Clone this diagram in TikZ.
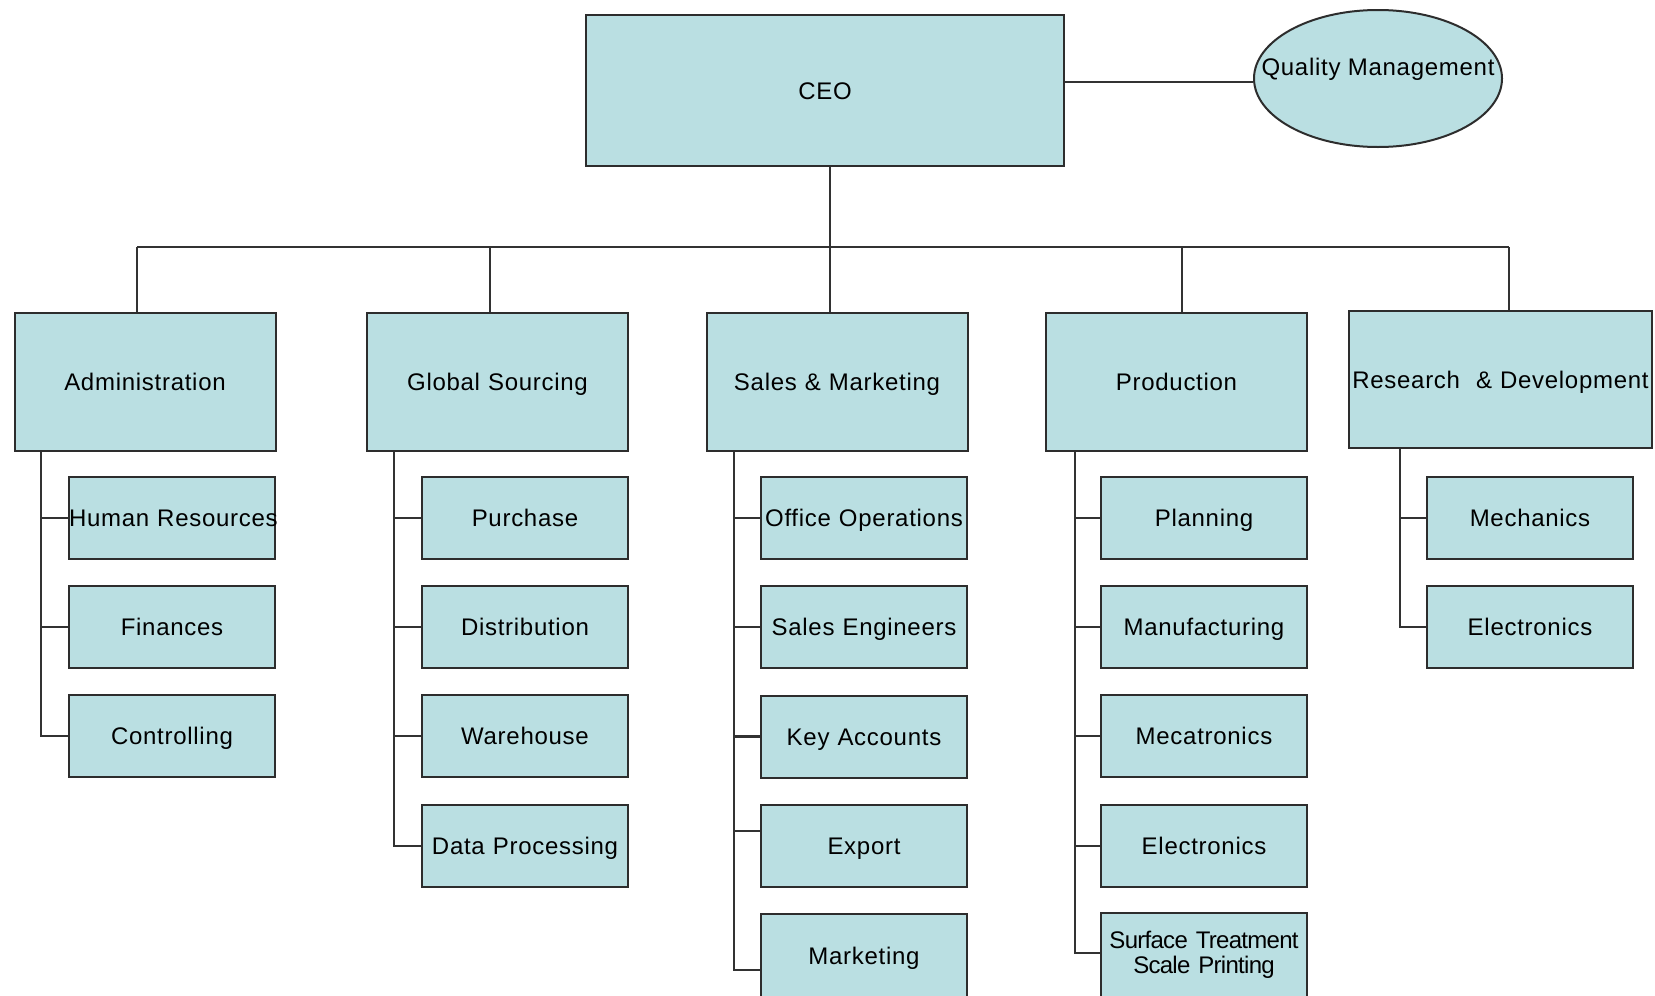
\documentclass[tikz,border=0pt]{standalone}
\usepackage{fontspec}
\setmainfont{Liberation Sans}[LetterSpace=3]
\usetikzlibrary{shapes.geometric}
\definecolor{boxfill}{RGB}{186,223,226}
\definecolor{boxline}{RGB}{45,45,45}
\definecolor{wire}{RGB}{50,50,50}
\begin{document}
\begin{tikzpicture}[x=1pt,y=-1pt,
  unit/.style={draw=boxline, fill=boxfill, line width=2pt, inner sep=0pt,
    font=\fontsize{24}{26}\selectfont, align=center},
  oneline/.style={text height=17pt, text depth=0pt},
  head/.style={unit, oneline, minimum width=478pt, text width=478pt, minimum height=151pt},
  dept/.style={unit, oneline, minimum width=261pt, text width=261pt, minimum height=138pt},
  teambox/.style={unit, minimum width=206pt, text width=206pt, minimum height=82pt},
  team/.style={teambox, oneline},
  lastteam/.style={team, minimum height=84pt},
  qual/.style={unit, ellipse, minimum width=248pt, minimum height=137pt},
  link/.style={draw=wire, line width=2.2pt}]
\useasboundingbox (0,0) rectangle (1655,996);

% top level
\node[head] (ceo) at (825,90.5) {CEO};
\node[qual, label={[name=qmtext, font=\fontsize{24}{26}\selectfont, text height=17pt, text depth=0pt, yshift=12pt]center:Quality Management}] (qm) at (1378,78.5) {};

% departments
\node[dept] (adm)  at (145,382)    {Administration};
\node[dept] (gs)   at (497.5,382)  {Global Sourcing};
\node[dept] (sm)   at (837,382)    {Sales \& Marketing};
\node[dept] (prod) at (1176.5,382) {Production};
\node[dept, minimum width=303pt, text width=303pt, minimum height=137pt] (rd) at (1500.5,379.5) {\mbox{Research~ \& Development}};

% administration teams
\node[team] (hr)   at (172,518) {\mbox{Human Resources}};
\node[team] (fin)  at (172,627) {Finances};
\node[team] (ctrl) at (172,736) {Controlling};

% global sourcing teams
\node[team] (pur)  at (525,518) {Purchase};
\node[team] (dist) at (525,627) {Distribution};
\node[team] (ware) at (525,736) {Warehouse};
\node[team] (data) at (525,846) {\mbox{Data Processing}};

% sales & marketing teams
\node[team] (off)  at (864,518) {\mbox{Office Operations}};
\node[team] (seng) at (864,627) {\mbox{Sales Engineers}};
\node[team] (key)  at (864,736.5) {Key Accounts};
\node[team] (exp)  at (864,846) {Export};
\node[lastteam] (mkt) at (864,956) {Marketing};

% production teams
\node[team] (plan) at (1204,518) {Planning};
\node[team] (manu) at (1204,627) {Manufacturing};
\node[team] (meca) at (1204,736) {Mecatronics};
\node[team] (elec) at (1204,846) {Electronics};
\node[teambox, minimum height=84pt, font=\fontsize{24}{25}\selectfont\addfontfeatures{LetterSpace=-3}] (surf) at (1204,955) {\mbox{Surface Treatment}\\\mbox{Scale Printing}};

% research & development teams
\node[team] (mech)  at (1530,518) {Mechanics};
\node[team] (relec) at (1530,627) {Electronics};

% CEO links
\coordinate (qmY) at (0,82);
\draw[link] (ceo.east |- qmY) -- (qm.west |- qmY);
\coordinate (dA) at (137,247);
\coordinate (dG) at (490,247);
\coordinate (dS) at (830,247);
\coordinate (dP) at (1182,247);
\coordinate (dR) at (1509,247);
\draw[link] (dS |- ceo.south) -- (dS);
\draw[link] (dA) -- (dR);
\draw[link] (dA) -- (dA |- adm.north);
\draw[link] (dG) -- (dG |- gs.north);
\draw[link] (dS) -- (dS |- sm.north);
\draw[link] (dP) -- (dP |- prod.north);
\draw[link] (dR) -- (dR |- rd.north);

% trunk positions
\coordinate (tA) at (41,0);
\coordinate (tG) at (394,0);
\coordinate (tS) at (734,0);
\coordinate (tP) at (1075,0);
\coordinate (tR) at (1400,0);
\coordinate (expY) at (0,831);
\coordinate (mktY) at (0,970);
\coordinate (surfY) at (0,953);

% administration
\draw[link] (tA |- adm.south) -- (tA |- ctrl.west) -- (ctrl.west);
\draw[link] (tA |- hr.west) -- (hr.west);
\draw[link] (tA |- fin.west) -- (fin.west);

% global sourcing
\draw[link] (tG |- gs.south) -- (tG |- data.west) -- (data.west);
\draw[link] (tG |- pur.west) -- (pur.west);
\draw[link] (tG |- dist.west) -- (dist.west);
\draw[link] (tG |- ware.west) -- (ware.west);

% sales & marketing
\draw[link] (tS |- sm.south) -- (tS |- mktY) -- (mkt.west |- mktY);
\draw[link] (tS |- off.west) -- (off.west);
\draw[link] (tS |- seng.west) -- (seng.west);
\draw[link] (tS |- key.west) -- (key.west);
\draw[link] (tS |- expY) -- (exp.west |- expY);

% production
\draw[link] (tP |- prod.south) -- (tP |- surfY) -- (surf.west |- surfY);
\draw[link] (tP |- plan.west) -- (plan.west);
\draw[link] (tP |- manu.west) -- (manu.west);
\draw[link] (tP |- meca.west) -- (meca.west);
\draw[link] (tP |- elec.west) -- (elec.west);

% research & development
\draw[link] (tR |- rd.south) -- (tR |- relec.west) -- (relec.west);
\draw[link] (tR |- mech.west) -- (mech.west);
\end{tikzpicture}
\end{document}
